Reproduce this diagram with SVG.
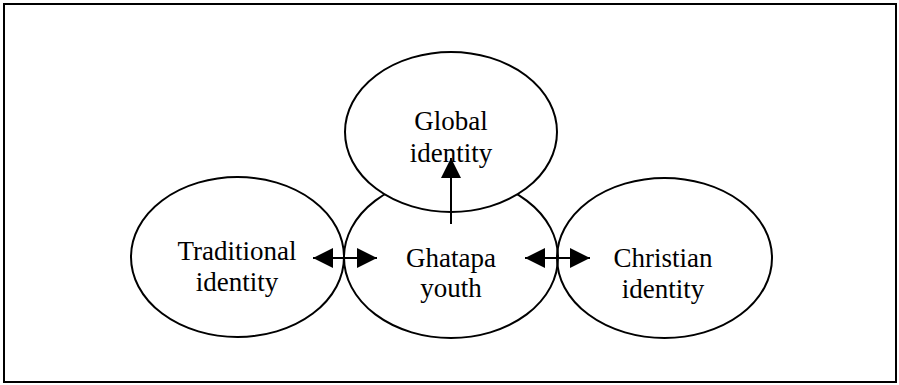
<svg xmlns="http://www.w3.org/2000/svg" width="899" height="385" viewBox="0 0 899 385">
<defs>
<style>
.node ellipse{fill:#fff;stroke:#000;stroke-width:2}
text{font-family:"Liberation Serif","Times New Roman",serif;font-size:27px;fill:#000;text-anchor:middle}
.conn line{stroke:#000;stroke-width:2}
</style>
<marker id="ah" viewBox="0 0 20 20" refX="20" refY="10" markerWidth="20" markerHeight="20" markerUnits="userSpaceOnUse" orient="auto-start-reverse">
<path d="M0,0 L20,10 L0,20 Z" fill="#000"/>
</marker>
</defs>
<rect x="4" y="4" width="892" height="378" fill="#fff" stroke="#000" stroke-width="2"/>
<g id="traditional" class="node">
<ellipse cx="237.5" cy="257" rx="106.5" ry="80"/>
<text x="237" y="260">Traditional</text>
<text x="237" y="291">identity</text>
</g>
<g id="christian" class="node">
<ellipse cx="664.5" cy="258" rx="107.5" ry="80"/>
<text x="663" y="267">Christian</text>
<text x="663" y="298">identity</text>
</g>
<g id="ghatapa" class="node">
<ellipse cx="451" cy="257.5" rx="107" ry="80.5" fill="none" style="fill:none"/>
<text x="451" y="267">Ghatapa</text>
<text x="451" y="297">youth</text>
</g>
<g id="global" class="node">
<ellipse cx="451" cy="132" rx="106" ry="80"/>
<text x="451" y="130">Global</text>
<text x="451" y="162">identity</text>
</g>
<g id="connectors" class="conn">
<line x1="313" y1="258" x2="377" y2="258" marker-start="url(#ah)" marker-end="url(#ah)"/>
<line x1="525" y1="258" x2="590" y2="258" marker-start="url(#ah)" marker-end="url(#ah)"/>
<line x1="451" y1="224" x2="451" y2="158" marker-end="url(#ah)"/>
</g>
</svg>
